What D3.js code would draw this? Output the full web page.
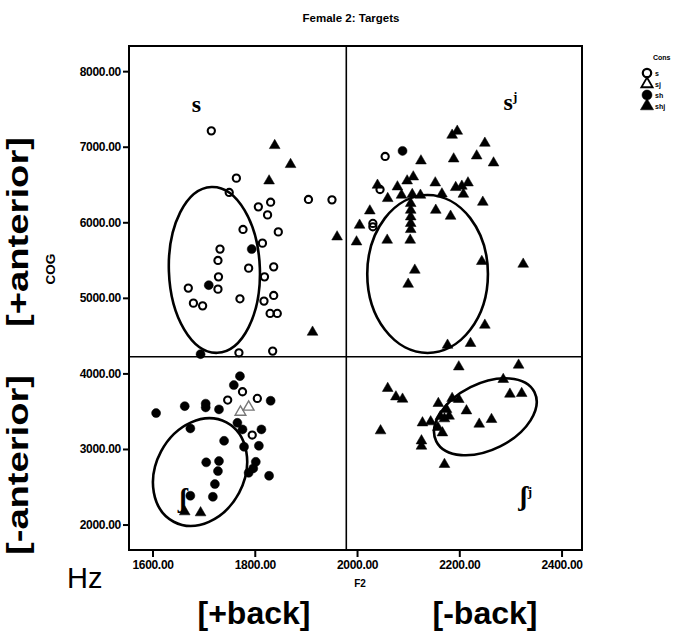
<!DOCTYPE html>
<html><head><meta charset="utf-8">
<script src="https://cdn.jsdelivr.net/npm/d3@7"></script>
<style>
html,body{margin:0;padding:0;background:#fff;}
svg{display:block;}
</style></head>
<body>
<svg id="chart" width="686" height="634"></svg>
<script>
// ---- data (F2 in Hz, COG in Hz) ----
const xTicks = [1600, 1800, 2000, 2200, 2400];
const yTicks = [2000, 3000, 4000, 5000, 6000, 7000, 8000];
const consCategories = ["s", "sj", "sh", "shj"];

const sF2 = [1715,1764,1750,1807,1831,1825,1905,1951,1777,1846,1815,1732,1728,1788,1837,1729,1819,1670,1728,1680,1698,1771,1818,1837,1830,1844,1769,1835,1747,1805,1795,1776,2055,2045,2031,2031];
const sCOG = [7210,6584,6395,6204,6266,6098,6302,6297,5905,5873,5724,5645,5495,5393,5410,5278,5278,5129,5115,4930,4894,4987,4957,5032,4794,4794,4273,4295,3647,3669,3184,3757,6871,6434,5985,5940];

const sjF2 = [1772, 1788];
const sjCOG = [3488, 3555];

const shF2 = [1794,1710,1694,2089,1607,1663,1704,1704,1730,1771,1759,1831,1674,1740,1766,1776,1813,1808,1779,1705,1730,1728,1802,1797,1788,1828,1722,1674,1718];
const shCOG = [5645,5168,4255,6945,3475,3567,3600,3550,3524,3964,3845,3638,3272,3108,3346,3259,3259,3042,3029,2823,2840,2707,2830,2743,2685,2645,2535,2381,2367];

const shjF2 = [1839,1870,1828,1961,1913,2186,2196,2250,2234,2267,2189,2125,2098,2110,2040,2079,2153,2193,2205,2217,2208,2087,2060,2108,2124,2166,2246,2105,2105,2154,2183,2025,2105,2005,2105,1999,2059,2104,2244,2325,2113,2100,2250,2222,2177,2105,1663,1694,2199,2316,2286,2299,2322,2060,2076,2089,2186,2199,2159,2175,2214,2263,2239,2180,2128,2144,2158,2167,2046,2126,2126,2171,2163,2171];
const shjCOG = [7016,6765,6548,5807,4546,7153,7206,7047,6879,6786,6839,6813,6548,6601,6491,6469,6522,6461,6478,6522,6372,6359,6315,6368,6359,6376,6266,6249,6160,6160,6081,6151,6072,5962,5905,5741,5764,5764,5482,5446,5367,5181,4639,4397,4374,5985,2169,2156,4087,4110,3921,3726,3735,3802,3690,3660,3669,3656,3603,3524,3505,3391,3329,3435,3346,3360,3286,3214,3241,3108,3038,2796,3430,3400];

// ellipses: centre, radii (Hz), rotation (deg)
const ellipseBase = ["s", "s", "ʃ", "ʃ"];
const ellipseSup = ["", "j", "", "j"];
const ellipseCX = [1721, 2138, 1693, 2251];
const ellipseCY = [5370, 5316, 2694, 3426];
const ellipseRX = [89, 118, 86.4, 107.4];
const ellipseRY = [1098, 1045, 744, 438];
const ellipseRot = [-2, 0, 28, -26.6];

// quadrant dividers
const dividerF2 = 1979;
const dividerCOG = 4220;
// phoneme label anchors (data units)
const labelF2 = [1686, 2300, 1660, 2330];
const labelCOG = [7457, 7483, 2230, 2260];

// ---- drawing ----
const SANS = "'Liberation Sans', Arial, Helvetica, sans-serif";
const SERIF = "'Liberation Serif', 'DejaVu Serif', serif";
const svg = d3.select("#chart").style("font-family", SANS);
const L = 129, R = 582, T = 46, B = 550;
const x = d3.scaleLinear().domain([1554, 2440]).range([L, R]);
const y = d3.scaleLinear().domain([1663, 8333]).range([B, T]);

// title
svg.append("text").attr("x", 351).attr("y", 22).attr("text-anchor", "middle")
  .style("font-size", "11.5px").style("font-weight", "bold").text("Female 2: Targets");

// axes
const fmt = d3.format(".2f");
const xAxis = svg.append("g").attr("transform", `translate(0,${B})`)
  .call(d3.axisBottom(x).tickValues(xTicks).tickFormat(fmt).tickSize(7).tickPadding(3).tickSizeOuter(0));
const yAxis = svg.append("g").attr("transform", `translate(${L},0)`)
  .call(d3.axisLeft(y).tickValues(yTicks).tickFormat(fmt).tickSize(6).tickPadding(2).tickSizeOuter(0));
[xAxis, yAxis].forEach(g => {
  g.select(".domain").remove();
  g.selectAll(".tick line").attr("stroke", "#000").attr("stroke-width", 2);
  g.selectAll(".tick text").attr("fill", "#000")
    .style("font-size", "12px").style("font-weight", "bold").style("letter-spacing", "-0.3px")
    .style("font-family", SANS);
});

// frame
svg.append("rect").attr("x", L).attr("y", T).attr("width", R - L).attr("height", B - T)
  .attr("fill", "none").attr("stroke", "#000").attr("stroke-width", 2);
svg.append("line").attr("x1", x(dividerF2)).attr("x2", x(dividerF2)).attr("y1", T).attr("y2", B)
  .attr("stroke", "#000").attr("stroke-width", 1.6);
svg.append("line").attr("x1", L).attr("x2", R).attr("y1", y(dividerCOG)).attr("y2", y(dividerCOG))
  .attr("stroke", "#000").attr("stroke-width", 1.6);

// ellipses
ellipseCX.forEach((cx, i) => {
  const px = x(cx), py = y(ellipseCY[i]);
  svg.append("ellipse").attr("cx", px).attr("cy", py)
    .attr("rx", x(cx + ellipseRX[i]) - px).attr("ry", py - y(ellipseCY[i] + ellipseRY[i]))
    .attr("transform", `rotate(${ellipseRot[i]},${px},${py})`)
    .attr("fill", "none").attr("stroke", "#000").attr("stroke-width", 2.6);
});

// phoneme labels
ellipseBase.forEach((n, i) => {
  const t = svg.append("text").attr("x", x(labelF2[i])).attr("y", y(labelCOG[i]))
    .attr("text-anchor", "middle")
    .style("font-family", SERIF).style("font-size", i >= 2 ? "27px" : "24px").style("font-weight", "bold")
    .text(n);
  if (ellipseSup[i]) {
    t.append("tspan").attr("dy", -9).style("font-size", "13px").text(ellipseSup[i]);
  }
});

// markers
const tri = d3.symbol().type(d3.symbolTriangle).size(50);
function drawCircles(xs, ys, filled) {
  svg.append("g").selectAll("circle").data(xs.map((v, i) => [v, ys[i]])).join("circle")
    .attr("cx", d => x(d[0])).attr("cy", d => y(d[1]))
    .attr("r", filled ? 4.5 : 3.6)
    .attr("fill", filled ? "#000" : "none")
    .attr("stroke", "#000").attr("stroke-width", filled ? 0.5 : 2.1);
}
function drawTriangles(xs, ys, filled) {
  svg.append("g").selectAll("path").data(xs.map((v, i) => [v, ys[i]])).join("path")
    .attr("d", tri).attr("transform", d => `translate(${x(d[0])},${y(d[1])})`)
    .attr("fill", filled ? "#000" : "none").attr("stroke", filled ? "#000" : "#777")
    .attr("stroke-width", filled ? 0.5 : 1.4);
}
drawCircles(sF2, sCOG, false);
drawTriangles(sjF2, sjCOG, false);
drawCircles(shF2, shCOG, true);
drawTriangles(shjF2, shjCOG, true);

// axis titles
svg.append("text").attr("x", 360).attr("y", 587).attr("text-anchor", "middle")
  .style("font-size", "10px").style("font-weight", "bold").text("F2");
svg.append("text").attr("transform", "translate(55,269) rotate(-90)").attr("text-anchor", "middle")
  .style("font-size", "13.5px").style("font-weight", "bold").text("COG");

// big annotation labels
svg.append("text").attr("x", 254).attr("y", 624).attr("text-anchor", "middle")
  .style("font-size", "31px").style("font-weight", "bold")
  .attr("textLength", 113).attr("lengthAdjust", "spacingAndGlyphs").text("[+back]");
svg.append("text").attr("x", 485).attr("y", 624).attr("text-anchor", "middle")
  .style("font-size", "31px").style("font-weight", "bold")
  .attr("textLength", 105).attr("lengthAdjust", "spacingAndGlyphs").text("[-back]");
svg.append("text").attr("transform", "translate(28,232) rotate(-90)").attr("text-anchor", "middle")
  .style("font-size", "29px").style("font-weight", "bold")
  .attr("textLength", 190).attr("lengthAdjust", "spacingAndGlyphs").text("[+anterior]");
svg.append("text").attr("transform", "translate(28,465) rotate(-90)").attr("text-anchor", "middle")
  .style("font-size", "29px").style("font-weight", "bold")
  .attr("textLength", 180).attr("lengthAdjust", "spacingAndGlyphs").text("[-anterior]");
svg.append("text").attr("x", 67).attr("y", 588).style("font-size", "29px").text("Hz");

// legend
const lg = svg.append("g");
lg.append("text").attr("x", 653).attr("y", 60).style("font-size", "7px").style("font-weight", "bold").text("Cons");
const legY = [73, 84, 95, 106];
consCategories.forEach((c, i) => {
  const cy = legY[i], cx = 647;
  if (i === 0 || i === 2) {
    lg.append("circle").attr("cx", cx).attr("cy", cy).attr("r", i === 0 ? 4.2 : 5)
      .attr("fill", i === 2 ? "#000" : "none").attr("stroke", "#000").attr("stroke-width", i === 0 ? 2.2 : 0.5);
  } else {
    lg.append("path").attr("d", d3.symbol().type(d3.symbolTriangle).size(i === 1 ? 55 : 75))
      .attr("transform", `translate(${cx},${cy})`)
      .attr("fill", i === 3 ? "#000" : "none").attr("stroke", "#000").attr("stroke-width", i === 1 ? 1.8 : 0.5);
  }
  lg.append("text").attr("x", 655).attr("y", cy + 3).style("font-size", "7px").style("font-weight", "bold").text(c);
});
</script>
</body></html>
